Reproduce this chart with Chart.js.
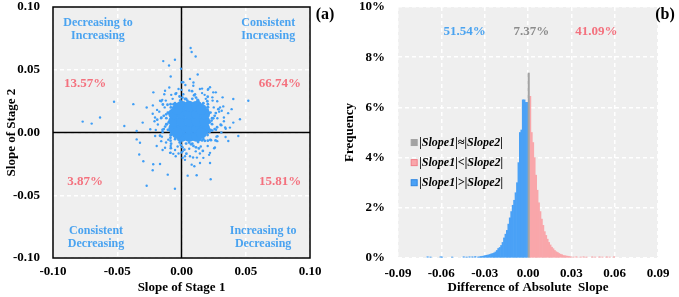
<!DOCTYPE html>
<html>
<head>
<meta charset="utf-8">
<script src="https://cdn.jsdelivr.net/npm/chart.js@4.4.1/dist/chart.umd.min.js"></script>
<style>
  html, body { margin: 0; padding: 0; background: #fff; }
  #wrap { position: relative; width: 679px; height: 297px; }
  #panelA { position: absolute; left: 0; top: 0; width: 340px; height: 297px; }
  #panelB { position: absolute; left: 340px; top: 0; width: 339px; height: 297px; }
</style>
</head>
<body>
<div id="wrap">
  <div id="panelA"><canvas id="slopeScatter" width="340" height="297"></canvas></div>
  <div id="panelB"><canvas id="slopeHist" width="339" height="297"></canvas></div>
</div>
<script>
// ---- panel (a): slope of stage 1 vs slope of stage 2 ----
// dense centre of the cloud
const slopeCore = [
  [0.000, -0.003], [0.006, -0.003], [0.012, -0.003],
  [-0.006, 0.003], [0.000, 0.003], [0.006, 0.003], [0.012, 0.003], [0.018, 0.003],
  [-0.006, 0.009], [0.000, 0.009], [0.006, 0.009], [0.012, 0.009], [0.018, 0.009],
  [-0.006, 0.015], [0.000, 0.015], [0.006, 0.015], [0.012, 0.015], [0.018, 0.015],
  [0.000, 0.021], [0.006, 0.021], [0.012, 0.021],
  [0.0155, 0.0185], [-0.0035, 0.0185], [0.0155, -0.0005], [-0.0035, -0.0005]
];
// edge of the cloud
const slopeRing = [
  [0.0210, 0.0090], [0.0205, 0.0129], [0.0190, 0.0165], [0.0166, 0.0196], [0.0135, 0.0220],
  [0.0099, 0.0235], [0.0060, 0.0240], [0.0021, 0.0235], [-0.0015, 0.0220], [-0.0046, 0.0196],
  [-0.0070, 0.0165], [-0.0085, 0.0129], [-0.0090, 0.0090], [-0.0085, 0.0051], [-0.0070, 0.0015],
  [-0.0046, -0.0016], [-0.0015, -0.0040], [0.0021, -0.0055], [0.0060, -0.0060], [0.0099, -0.0055],
  [0.0135, -0.0040], [0.0166, -0.0016], [0.0190, 0.0015], [0.0205, 0.0051],
  [0.0238, 0.0114], [0.0226, 0.0159], [0.0203, 0.0200], [0.0170, 0.0233], [0.0129, 0.0256],
  [0.0084, 0.0268], [0.0036, 0.0268], [-0.0009, 0.0256], [-0.0050, 0.0233], [-0.0083, 0.0200],
  [-0.0106, 0.0159], [-0.0118, 0.0114], [-0.0118, 0.0066], [-0.0106, 0.0021], [-0.0083, -0.0020],
  [-0.0050, -0.0053], [-0.0009, -0.0076], [0.0036, -0.0088], [0.0084, -0.0088], [0.0129, -0.0076],
  [0.0170, -0.0053], [0.0203, -0.0020], [0.0226, 0.0021], [0.0238, 0.0066],
  [0.0220, 0.0080], [0.0247, 0.0113], [0.0267, 0.0155], [0.0199, 0.0160], [0.0206, 0.0202],
  [0.0201, 0.0249], [0.0140, 0.0219], [0.0125, 0.0259], [0.0098, 0.0297], [0.0060, 0.0240],
  [0.0027, 0.0267], [-0.0015, 0.0287], [-0.0020, 0.0219], [-0.0062, 0.0226], [-0.0109, 0.0221],
  [-0.0079, 0.0160], [-0.0119, 0.0145], [-0.0157, 0.0118], [-0.0100, 0.0080], [-0.0127, 0.0047],
  [-0.0147, 0.0005], [-0.0079, 0.0000], [-0.0086, -0.0042], [-0.0081, -0.0089], [-0.0020, -0.0059],
  [-0.0005, -0.0099], [0.0022, -0.0137], [0.0060, -0.0080], [0.0093, -0.0107], [0.0135, -0.0127],
  [0.0140, -0.0059], [0.0182, -0.0066], [0.0229, -0.0061], [0.0199, 0.0000], [0.0239, 0.0015],
  [0.0277, 0.0042],
  [0.0234, 0.0095], [0.0258, 0.0133], [0.0287, 0.0186], [0.0203, 0.0180], [0.0205, 0.0225],
  [0.0204, 0.0285], [0.0134, 0.0239], [0.0113, 0.0278], [0.0082, 0.0329], [0.0045, 0.0254],
  [0.0007, 0.0278], [-0.0046, 0.0307], [-0.0040, 0.0223], [-0.0085, 0.0225], [-0.0145, 0.0223],
  [-0.0099, 0.0154], [-0.0138, 0.0133], [-0.0189, 0.0102], [-0.0114, 0.0065], [-0.0138, 0.0027],
  [-0.0167, -0.0026], [-0.0083, -0.0020], [-0.0085, -0.0065], [-0.0083, -0.0125], [-0.0014, -0.0079],
  [0.0007, -0.0118], [0.0038, -0.0169], [0.0075, -0.0094], [0.0113, -0.0118], [0.0166, -0.0147],
  [0.0160, -0.0063], [0.0205, -0.0065], [0.0265, -0.0063], [0.0219, 0.0006], [0.0258, 0.0027],
  [0.0309, 0.0058]
];
// thinner halo round the cloud
const slopeFringe = [
  [0.0330, 0.0090], [0.0363, 0.0154], [0.0325, 0.0208], [0.0278, 0.0249], [0.0267, 0.0320],
  [0.0205, 0.0341], [0.0143, 0.0347], [0.0093, 0.0398], [0.0030, 0.0379], [-0.0023, 0.0347],
  [-0.0095, 0.0358], [-0.0134, 0.0305], [-0.0158, 0.0249], [-0.0223, 0.0216], [-0.0224, 0.0150],
  [-0.0210, 0.0090], [-0.0243, 0.0026], [-0.0205, -0.0028], [-0.0158, -0.0069], [-0.0147, -0.0140],
  [-0.0085, -0.0161], [-0.0023, -0.0167], [0.0027, -0.0218], [0.0090, -0.0199], [0.0143, -0.0167],
  [0.0215, -0.0178], [0.0254, -0.0125], [0.0278, -0.0069], [0.0343, -0.0036], [0.0344, 0.0030],
  [0.0279, 0.0113], [0.0293, 0.0166], [0.0251, 0.0200], [0.0242, 0.0254], [0.0189, 0.0268],
  [0.0160, 0.0314], [0.0106, 0.0305], [0.0060, 0.0335], [0.0014, 0.0305], [-0.0040, 0.0314],
  [-0.0069, 0.0268], [-0.0122, 0.0254], [-0.0131, 0.0200], [-0.0173, 0.0166], [-0.0159, 0.0113],
  [-0.0184, 0.0064], [-0.0149, 0.0022], [-0.0152, -0.0033], [-0.0103, -0.0057], [-0.0084, -0.0108],
  [-0.0030, -0.0111], [0.0009, -0.0150], [0.0060, -0.0130], [0.0111, -0.0150], [0.0150, -0.0111],
  [0.0204, -0.0108], [0.0223, -0.0057], [0.0272, -0.0033], [0.0269, 0.0022], [0.0304, 0.0064]
];
// scattered points away from the cloud
const slopeOuter = [
  [0.0071, 0.0673], [0.0079, 0.0641], [0.0110, 0.0606], [-0.0142, 0.0569], [-0.0051, 0.0580],
  [-0.0097, 0.0534], [-0.0004, 0.0508], [0.0126, 0.0462], [-0.0084, 0.0446], [0.0066, 0.0427],
  [0.0014, 0.0400], [-0.0219, 0.0320], [-0.0128, 0.0333], [0.0209, 0.0347], [0.0247, 0.0320],
  [0.0320, 0.0280], [0.0520, 0.0253], [0.0403, 0.0267], [-0.0525, 0.0245], [-0.0375, 0.0226],
  [-0.0271, 0.0199], [-0.0634, 0.0119], [-0.0769, 0.0087], [-0.0699, 0.0071], [-0.0445, 0.0052],
  [-0.0349, 0.0012], [-0.0302, 0.0079], [0.0442, -0.0028], [0.0377, 0.0039], [0.0403, 0.0079],
  [0.0455, 0.0106], [-0.0349, -0.0055], [-0.0323, -0.0082], [-0.0329, -0.0175], [-0.0297, -0.0229],
  [-0.0167, -0.0251], [-0.0224, -0.0301], [-0.0107, -0.0336], [-0.0271, -0.0424], [-0.0051, -0.0448],
  [0.0048, -0.0344], [0.0118, -0.0341], [0.0227, -0.0373], [0.0144, -0.0243], [0.0222, -0.0243],
  [0.0079, -0.0256], [0.0100, -0.0269], [0.0066, -0.0189], [0.0170, -0.0202], [0.0222, -0.0162],
  [0.0027, -0.0189], [-0.0064, -0.0170], [-0.0045, -0.0189], [0.0009, -0.0202], [-0.0167, 0.0253],
  [-0.0206, 0.0119], [-0.0193, -0.0108], [-0.0128, -0.0122], [-0.0089, -0.0162], [-0.0220, -0.0253],
  [0.0364, -0.0068], [0.0390, 0.0186], [0.0313, 0.0173], [0.0092, 0.0373], [0.0222, 0.0360],
  [0.0002, 0.0400], [0.0300, 0.0200], [0.0330, 0.0120], [0.0280, -0.0030], [0.0310, 0.0000],
  [-0.0200, 0.0020], [-0.0190, 0.0180], [-0.0150, 0.0260], [0.0180, 0.0300], [0.0240, 0.0280],
  [0.0000, 0.0340], [-0.0080, 0.0300], [0.0120, -0.0200], [0.0000, -0.0160], [-0.0120, -0.0080],
  [0.0260, -0.0120], [0.0160, 0.0350], [-0.0050, -0.0140], [0.0340, 0.0040]
];
const quadrantNames = [["Decreasing to", "Increasing"], ["Consistent", "Increasing"],
                       ["Consistent", "Decreasing"], ["Increasing to", "Decreasing"]];
const quadrantShares = ["13.57%", "66.74%", "3.87%", "15.81%"];

// ---- panel (b): difference of absolute slope ----
const blueBins = [-0.0695, -0.0675, -0.0605, -0.0595, -0.0525, -0.0445, -0.0425, -0.0405, -0.0385, -0.0365,
  -0.0345, -0.0335, -0.0325, -0.0315, -0.0305, -0.0295, -0.0285, -0.0275, -0.0265, -0.0255,
  -0.0245, -0.0235, -0.0225, -0.0215, -0.0205, -0.0195, -0.0185, -0.0175, -0.0165, -0.0155,
  -0.0145, -0.0135, -0.0125, -0.0115, -0.0105, -0.0095, -0.0085, -0.0075, -0.0065, -0.0055,
  -0.0045, -0.0035, -0.0025, -0.0015, -0.0005];
const blueFreq = [0.05, 0.04, 0.05, 0.04, 0.04, 0.05, 0.04, 0.05, 0.05, 0.06,
  0.04, 0.05, 0.06, 0.07, 0.08, 0.10, 0.11, 0.12, 0.14, 0.16,
  0.18, 0.20, 0.24, 0.30, 0.38, 0.42, 0.50, 0.62, 0.80, 0.95,
  1.10, 1.35, 1.60, 1.85, 2.10, 2.30, 2.60, 3.00, 3.80, 5.00,
  5.10, 6.30, 6.30, 6.20, 6.20];
const grayBins = [0.0005];
const grayFreq = [7.37];
const pinkBins = [0.0015, 0.0025, 0.0035, 0.0045, 0.0055, 0.0065, 0.0075, 0.0085, 0.0095, 0.0105,
  0.0115, 0.0125, 0.0135, 0.0145, 0.0155, 0.0165, 0.0175, 0.0185, 0.0195, 0.0205,
  0.0215, 0.0225, 0.0235, 0.0245, 0.0255, 0.0265, 0.0275, 0.0285, 0.0295,
  0.0315, 0.0335, 0.0365, 0.0385, 0.0405, 0.0445, 0.0465, 0.0495, 0.0515, 0.0545, 0.0565, 0.0595];
const pinkFreq = [6.44, 5.00, 4.60, 4.00, 3.30, 2.70, 2.20, 1.85, 1.55, 1.30,
  1.05, 0.90, 0.75, 0.62, 0.52, 0.43, 0.37, 0.30, 0.25, 0.22,
  0.18, 0.15, 0.13, 0.10, 0.09, 0.08, 0.07, 0.06, 0.05,
  0.04, 0.05, 0.04, 0.05, 0.04, 0.05, 0.04, 0.05, 0.04, 0.05, 0.04, 0.05];
const histLabels = ["|Slope1|\u2248|Slope2|", "|Slope1|<|Slope2|", "|Slope1|>|Slope2|"];
const histShares = ["51.54%", "7.37%", "41.09%"];

// ---- shared style ----
const SERIF = "'Liberation Serif', 'Times New Roman', serif";
Chart.defaults.font.family = SERIF;
Chart.defaults.font.weight = "bold";
Chart.defaults.color = "#000";

const BLUE = "#3f9ef6";
const BLUE_TEXT = "#4aa3f0";
const RED_TEXT = "#f4717e";
const PLOT_BG = "#efefef";
const tickFont = { family: SERIF, size: 13, weight: "bold" };
const titleFont = { family: SERIF, size: 13, weight: "bold" };

function fmt2(v) {
  return (Math.abs(v) < 1e-9 ? 0 : v).toFixed(2);
}
function toPoints(pairs) {
  return pairs.map(function (p) { return { x: p[0], y: p[1] }; });
}
function toBars(bins, freq) {
  return bins.map(function (b, i) { return { x: b, y: freq[i] }; });
}
function gridOpts() {
  return { color: "#ffffff", lineWidth: 1.5, drawTicks: false };
}
// fixed axis boxes so both plot areas sit where the figure has them
function fixY(width) {
  return function (scale) { scale.width = width; scale.paddingTop = 0; scale.paddingBottom = 0; };
}
function fixX(height) {
  return function (scale) { scale.height = height; scale.paddingLeft = 0; scale.paddingRight = 0; };
}

const plotBackground = {
  id: "plotBackground",
  beforeDraw(chart) {
    const a = chart.chartArea, ctx = chart.ctx;
    ctx.save();
    ctx.fillStyle = PLOT_BG;
    ctx.fillRect(a.left, a.top, a.right - a.left, a.bottom - a.top);
    ctx.restore();
  }
};

function centredText(ctx, text, x, y, color, size) {
  ctx.fillStyle = color;
  ctx.font = "bold " + size + "px " + SERIF;
  ctx.textAlign = "center";
  ctx.textBaseline = "middle";
  ctx.fillText(text, x, y);
}

// quadrant lines, frame and labels for panel (a)
const quadrantPlugin = {
  id: "quadrants",
  beforeDatasetsDraw(chart) {
    const a = chart.chartArea, ctx = chart.ctx;
    const x0 = chart.scales.x.getPixelForValue(0);
    const y0 = chart.scales.y.getPixelForValue(0);
    ctx.save();
    ctx.strokeStyle = "#000";
    ctx.lineWidth = 1.5;
    ctx.beginPath();
    ctx.moveTo(x0, a.top); ctx.lineTo(x0, a.bottom);
    ctx.moveTo(a.left, y0); ctx.lineTo(a.right, y0);
    ctx.stroke();
    ctx.restore();
  },
  afterDraw(chart) {
    const a = chart.chartArea, ctx = chart.ctx;
    const xs = chart.scales.x, ys = chart.scales.y;
    ctx.save();
    ctx.strokeStyle = "#000";
    ctx.lineWidth = 1.5;
    ctx.strokeRect(a.left, a.top, a.right - a.left, a.bottom - a.top);

    const nameX = [-0.065, 0.0675, -0.0665, 0.0635];
    const nameY = [0.0874, 0.0874, -0.0783, -0.0783];
    const lineGap = 0.0102;
    quadrantNames.forEach(function (lines, i) {
      lines.forEach(function (t, j) {
        centredText(ctx, t, xs.getPixelForValue(nameX[i]), ys.getPixelForValue(nameY[i] - j * lineGap), BLUE_TEXT, 12);
      });
    });
    const shareX = [-0.075, 0.0765, -0.075, 0.0767];
    const shareY = [0.039, 0.039, -0.0395, -0.0395];
    quadrantShares.forEach(function (t, i) {
      centredText(ctx, t, xs.getPixelForValue(shareX[i]), ys.getPixelForValue(shareY[i]), RED_TEXT, 13);
    });
    centredText(ctx, "(a)", 325, 15, "#000", 16);
    ctx.restore();
  }
};

new Chart(document.getElementById("slopeScatter"), {
  type: "scatter",
  data: {
    datasets: [
      { data: toPoints(slopeCore), pointRadius: 5.5, backgroundColor: BLUE, borderWidth: 0 },
      { data: toPoints(slopeRing), pointRadius: 1.4, backgroundColor: BLUE, borderWidth: 0 },
      { data: toPoints(slopeFringe), pointRadius: 1.2, backgroundColor: BLUE, borderWidth: 0 },
      { data: toPoints(slopeOuter), pointRadius: 1.2, backgroundColor: BLUE, borderWidth: 0 }
    ]
  },
  options: {
    responsive: false,
    animation: false,
    devicePixelRatio: 1,
    layout: { padding: { top: 7, right: 30, left: 0, bottom: 0 } },
    plugins: { legend: { display: false }, tooltip: { enabled: false } },
    elements: { point: { hoverRadius: 0 } },
    scales: {
      x: {
        type: "linear", min: -0.1, max: 0.1,
        ticks: { stepSize: 0.05, padding: 6, font: tickFont, callback: fmt2 },
        grid: gridOpts(),
        border: { display: false, dash: [4, 3] },
        title: { display: true, text: "Slope of Stage 1", font: titleFont, padding: { top: 0, bottom: 2 } },
        afterFit: fixX(39)
      },
      y: {
        type: "linear", min: -0.1, max: 0.1,
        ticks: { stepSize: 0.05, padding: 13, font: tickFont, callback: fmt2 },
        grid: gridOpts(),
        border: { display: false, dash: [4, 3] },
        title: { display: true, text: "Slope of Stage 2", font: titleFont, padding: { top: 4, bottom: 0 } },
        afterFit: fixY(53)
      }
    }
  },
  plugins: [plotBackground, quadrantPlugin]
});

// shares and legend for panel (b)
const histNotes = {
  id: "histNotes",
  afterDraw(chart) {
    const ctx = chart.ctx;
    const xs = chart.scales.x, ys = chart.scales.y;
    ctx.save();
    const shareX = [-0.0438, 0.0024, 0.0474];
    const shareColors = [BLUE_TEXT, "#8c8c8c", RED_TEXT];
    histShares.forEach(function (t, i) {
      centredText(ctx, t, xs.getPixelForValue(shareX[i]), ys.getPixelForValue(9.0), shareColors[i], 13);
    });
    const rowY = [4.6, 3.8, 3.0];
    const boxX = xs.getPixelForValue(-0.0788);
    chart.data.datasets.forEach(function (ds, i) {
      const y = ys.getPixelForValue(rowY[i]);
      ctx.fillStyle = ds.backgroundColor;
      ctx.fillRect(boxX - 3, y - 3, 6, 6);
      ctx.strokeStyle = ds.legendEdge;
      ctx.lineWidth = 1;
      ctx.strokeRect(boxX - 3, y - 3, 6, 6);
      ctx.fillStyle = "#000";
      ctx.font = "italic bold 12px " + SERIF;
      ctx.textAlign = "left";
      ctx.textBaseline = "middle";
      ctx.fillText(ds.label, boxX + 5, y);
    });
    centredText(ctx, "(b)", 325, 15, "#000", 16);
    ctx.restore();
  }
};

new Chart(document.getElementById("slopeHist"), {
  type: "bar",
  data: {
    datasets: [
      { label: histLabels[0], data: toBars(grayBins, grayFreq), backgroundColor: "#a3a3a3", legendEdge: "#a3a3a3" },
      { label: histLabels[1], data: toBars(pinkBins, pinkFreq), backgroundColor: "#f9a6aa", legendEdge: "#f07f88" },
      { label: histLabels[2], data: toBars(blueBins, blueFreq), backgroundColor: "#4aa1f6", legendEdge: "#2f86e0" }
    ]
  },
  options: {
    responsive: false,
    animation: false,
    devicePixelRatio: 1,
    layout: { padding: { top: 7, right: 21, left: 0, bottom: 0 } },
    datasets: { bar: { grouped: false, barPercentage: 1, categoryPercentage: 1, borderWidth: 0 } },
    plugins: { legend: { display: false }, tooltip: { enabled: false } },
    scales: {
      x: {
        type: "linear", min: -0.09, max: 0.09, offset: false,
        ticks: { stepSize: 0.03, padding: 8, font: tickFont, callback: fmt2 },
        grid: Object.assign(gridOpts(), { offset: false }),
        border: { display: false, dash: [4, 3] },
        title: { display: true, text: "Difference of Absolute  Slope", font: titleFont, padding: { top: 0, bottom: 2 } },
        afterFit: fixX(39)
      },
      y: {
        min: 0, max: 10,
        ticks: { stepSize: 2, padding: 13, font: tickFont, callback: function (v) { return v + "%"; } },
        grid: gridOpts(),
        border: { display: false, dash: [4, 3] },
        title: { display: true, text: "Frequency", font: titleFont, padding: { top: 2, bottom: 0 } },
        afterFit: fixY(58)
      }
    }
  },
  plugins: [plotBackground, histNotes]
});
</script>
</body>
</html>
